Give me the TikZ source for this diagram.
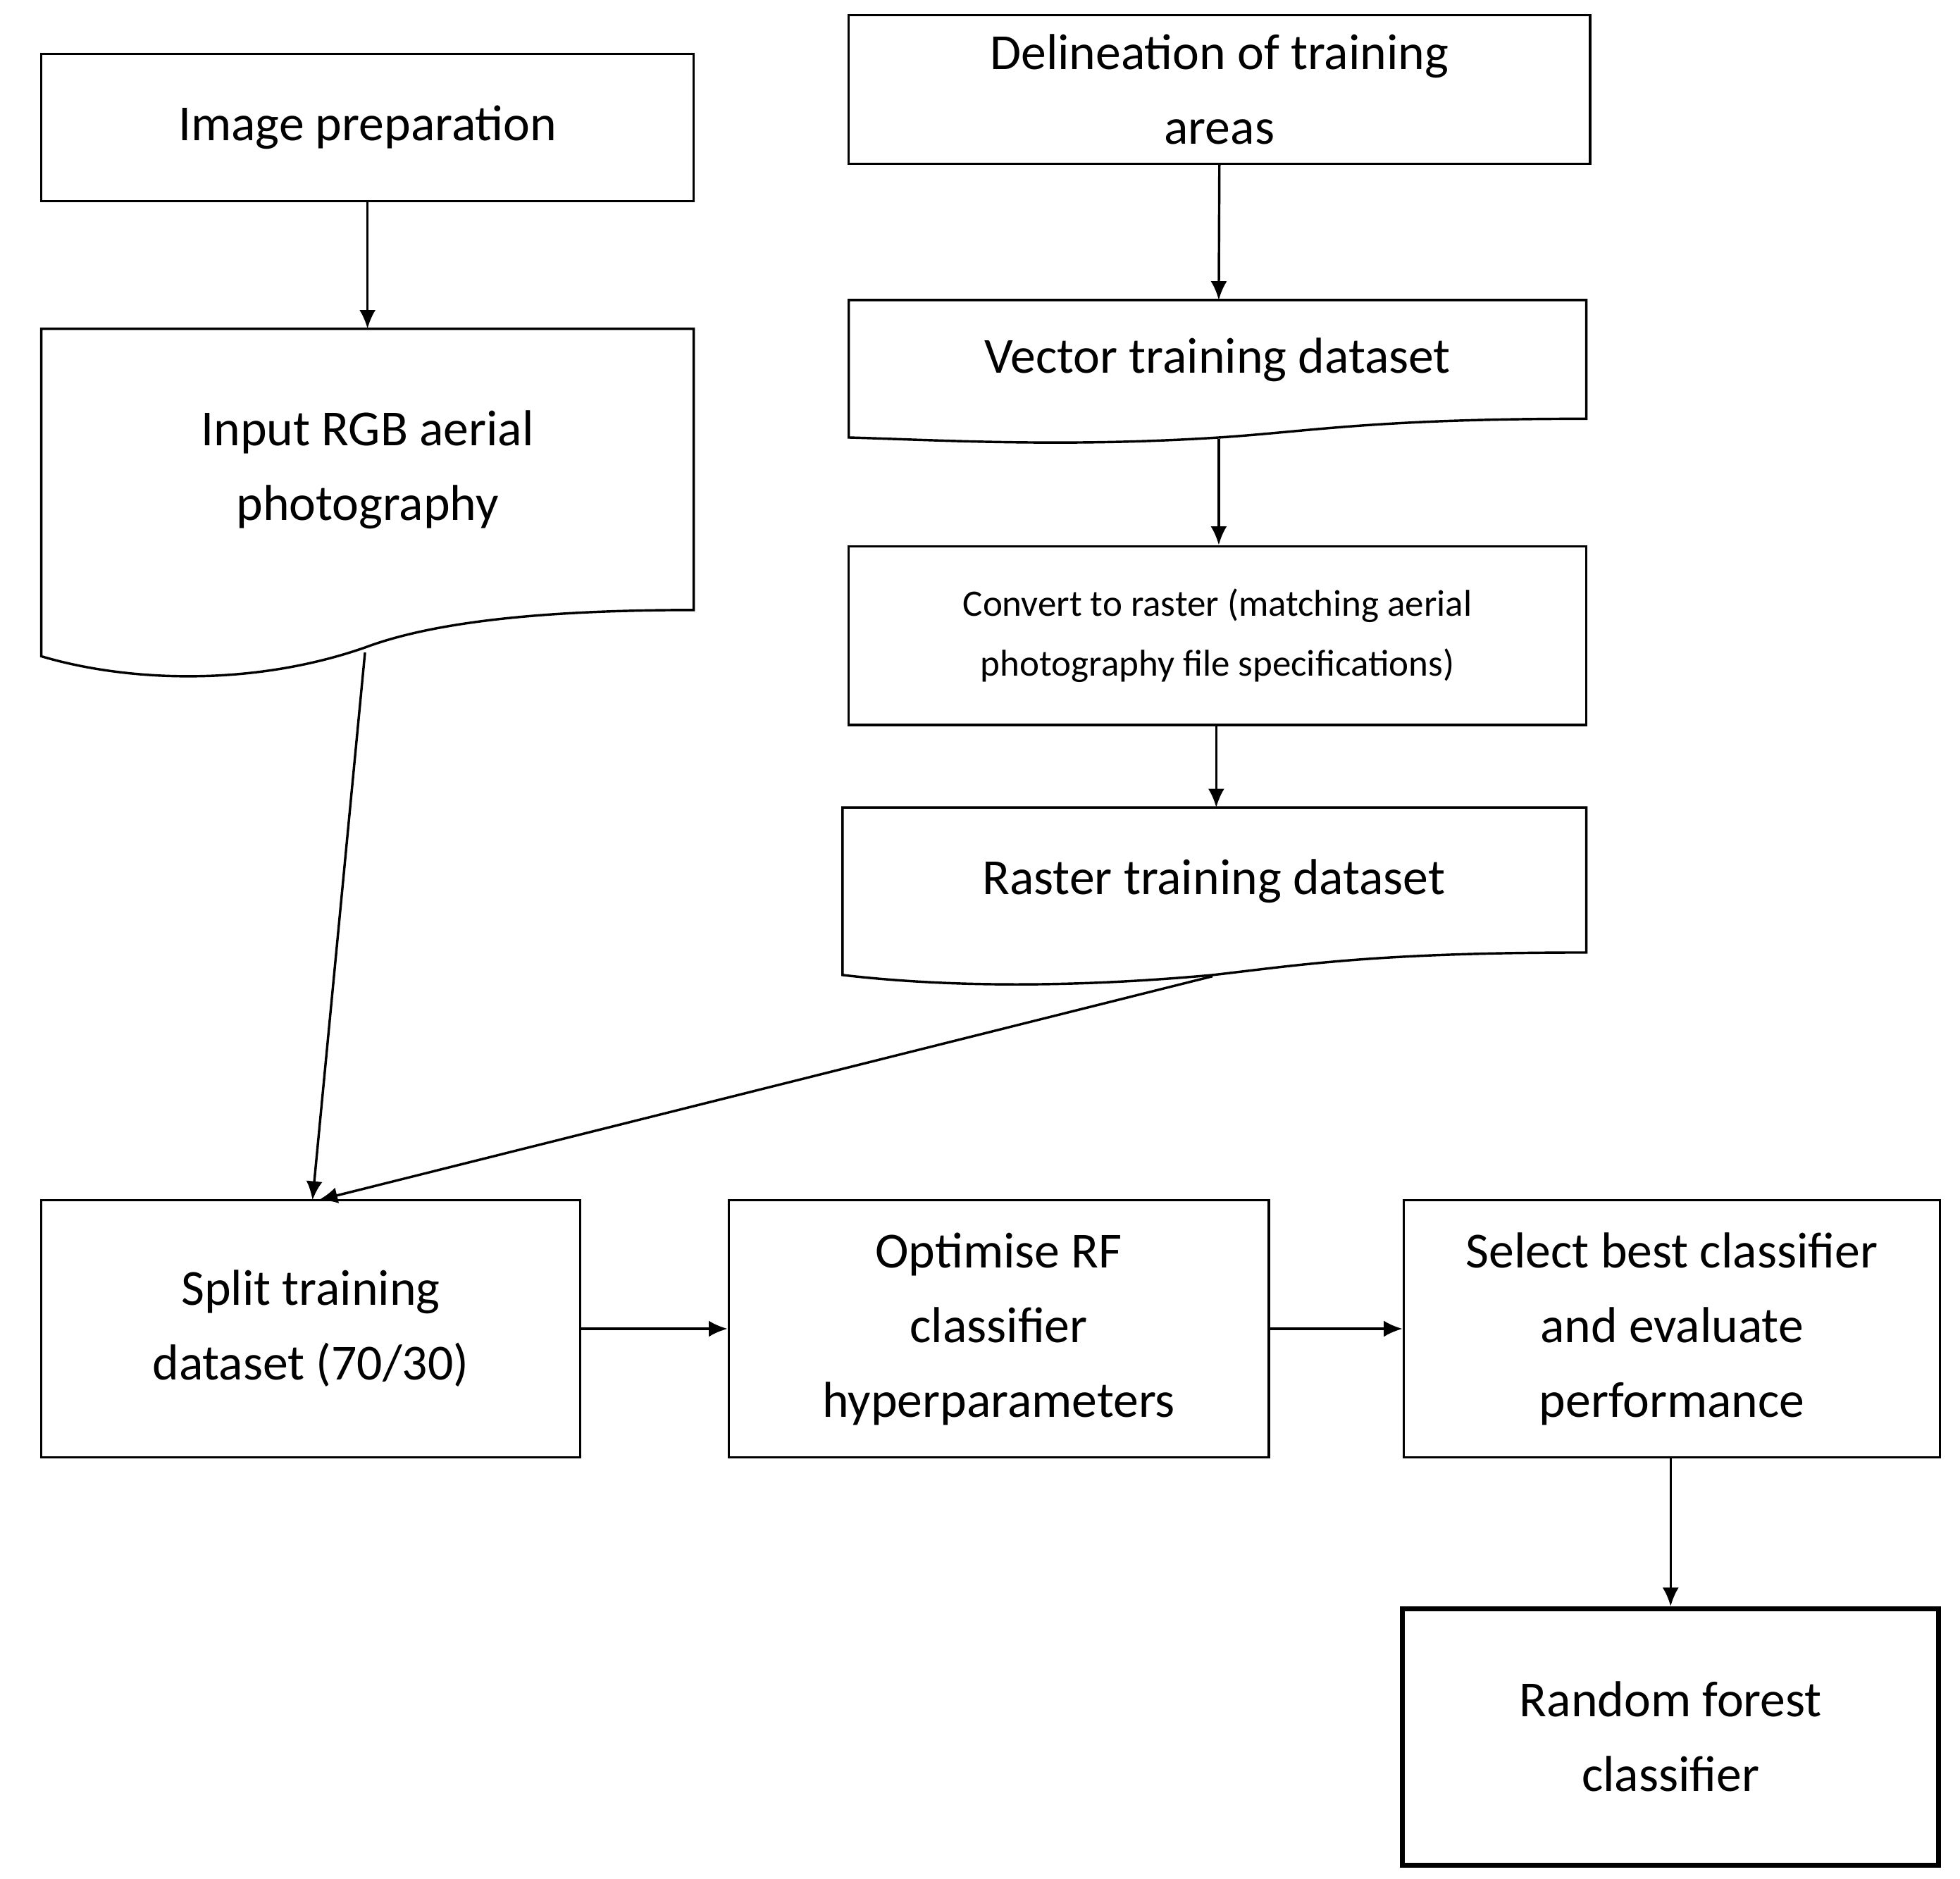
\documentclass[tikz,border=0pt]{standalone}
\usepackage{fontspec}
\setmainfont{Carlito}
\usetikzlibrary{arrows.meta}
\begin{document}
\begin{tikzpicture}[x=0.02cm,y=-0.02cm,
  box/.style={draw,line width=1.1pt,inner sep=0pt},
  txt/.style={align=center,font=\fontsize{23}{34}\selectfont},
  small/.style={align=center,font=\fontsize{17}{27}\selectfont},
  arr/.style={line width=1.1pt,-{Latex[length=0.3cm,width=0.26cm]}}]
\useasboundingbox (0,0) rectangle (1568,1503);
% plain boxes
\node[box,minimum width=522*0.02cm,minimum height=118*0.02cm] (prep) at (294,102) {};
\node[txt] at (prep) {Image preparation};
\node[box,minimum width=593*0.02cm,minimum height=119*0.02cm] (deli) at (975.5,71.5) {};
\node[txt] at (deli) {Delineation of training\\areas};
\node[box,minimum width=590*0.02cm,minimum height=143*0.02cm] (conv) at (974,508.5) {};
\node[small] at (conv) {Convert to raster (matching aerial\\photography file specifications)};
\node[box,minimum width=431*0.02cm,minimum height=206*0.02cm] (split) at (248.5,1063) {};
\node[txt] at (split) {Split training\\dataset (70/30)};
\node[box,minimum width=432*0.02cm,minimum height=206*0.02cm] (opt) at (799,1063) {};
\node[txt] at (opt) {Optimise RF\\classifier\\hyperparameters};
\node[box,minimum width=429*0.02cm,minimum height=206*0.02cm] (sel) at (1337.5,1063) {};
\node[txt] at (sel) {Select best classifier\\and evaluate\\performance};
\node[draw,line width=2.2pt,minimum width=429*0.02cm,minimum height=205*0.02cm] (rf) at (1336.5,1389.5) {};
\node[txt] at (rf) {Random forest\\classifier};
% document shapes
\draw[line width=1.1pt] (33,525) -- (33,263) -- (555,263) -- (555,488)
  .. controls (420,488) and (340,500) .. (292,518)
  .. controls (200,550) and (100,545) .. cycle;
\node[txt] (rgb) at (294,376) {Input RGB aerial\\photography};
\coordinate (rgbb) at (292,522);
\draw[line width=1.1pt] (679,350) -- (679,240) -- (1269,240) -- (1269,335)
  .. controls (1100,335) and (1050,345) .. (975,350)
  .. controls (850,358) and (750,352) .. cycle;
\node[txt] (vec) at (974,288) {Vector training dataset};
\coordinate (vect) at (975,240);
\coordinate (vecb) at (975,351);
\draw[line width=1.1pt] (674,780) -- (674,646) -- (1269,646) -- (1269,762)
  .. controls (1100,762) and (1040,772) .. (970,780)
  .. controls (860,790) and (760,790) .. cycle;
\node[txt] (ras) at (971,705) {Raster training dataset};
\coordinate (rast) at (973,646);
\coordinate (rasb) at (970,781);
% connectors
\draw[arr] (prep.south) -- (prep.south |- 0,263);
\draw[arr] (deli.south) -- (vect);
\draw[arr] (vecb) -- (conv.north -| vecb);
\draw[arr] (conv.south -| rast) -- (rast);
\draw[arr] (rgbb) -- (250,960);
\draw[arr] (rasb) -- (255,960);
\draw[arr] (split) -- (opt.west);
\draw[arr] (opt) -- (sel.west);
\draw[arr] (sel.south -| rf.north) -- (rf.north);
\end{tikzpicture}
\end{document}
